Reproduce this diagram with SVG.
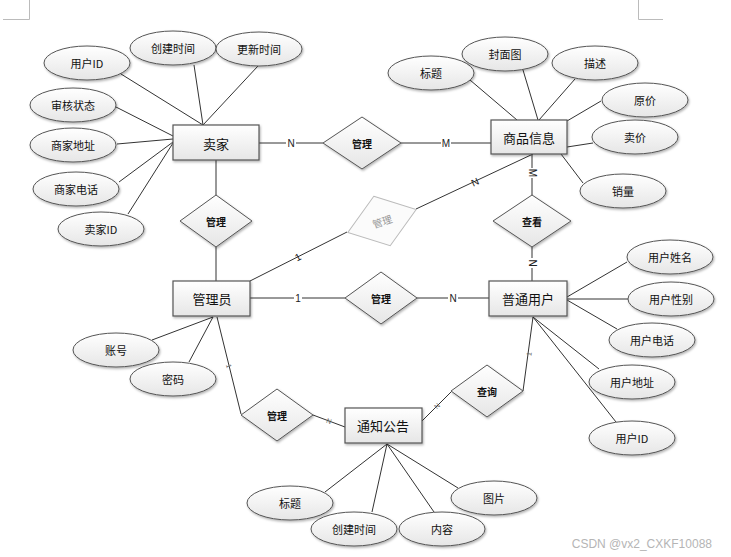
<svg xmlns="http://www.w3.org/2000/svg" width="731" height="557" viewBox="0 0 731 557">
<defs>
<linearGradient id="g" x1="0" y1="0" x2="0" y2="1">
<stop offset="0" stop-color="#ffffff"/>
<stop offset="1" stop-color="#e6e6e6"/>
</linearGradient>
<filter id="sh" x="-10%" y="-10%" width="130%" height="140%">
<feDropShadow dx="1" dy="1.5" stdDeviation="0.8" flood-color="#000" flood-opacity="0.3"/>
</filter>
</defs>
<style>
.e{fill:url(#g);stroke:#555;stroke-width:1;filter:url(#sh)}
.r{fill:url(#g);stroke:#555;stroke-width:1.2;filter:url(#sh)}
.d{fill:url(#g);stroke:#555;stroke-width:1;filter:url(#sh)}
.df{fill:#fbfbfb;stroke:#bbb;stroke-width:1}
.c line{stroke:#333;stroke-width:1}
text{font-family:"Noto Sans CJK SC","Liberation Sans",sans-serif;text-anchor:middle;dominant-baseline:central;fill:#111}
.ta{font-size:11px}
.tr{font-size:13px}
.td{font-size:10px;font-weight:bold}
.lb{font-family:"Liberation Sans",sans-serif;font-size:10px;fill:#222}
.lt{font-family:"Liberation Sans",sans-serif;font-size:7px;fill:#666}
.wm{font-family:"Liberation Sans",sans-serif;font-size:12px;fill:#b5b5b5}
</style>
<rect width="731" height="557" fill="#fff"/>
<g id="corners" stroke="#bbb" stroke-width="1" fill="none">
<polyline points="3,19.5 29.5,19.5 29.5,0"/>
<polyline points="638.5,0 638.5,19.5 663,19.5"/>
</g>
<g class="c" id="connectors">
<line x1="121" y1="74" x2="203" y2="125"/>
<line x1="194" y1="65" x2="203" y2="125"/>
<line x1="258" y1="66" x2="203" y2="125"/>
<line x1="116" y1="107" x2="173" y2="136"/>
<line x1="117" y1="144" x2="173" y2="139"/>
<line x1="119" y1="182" x2="173" y2="142"/>
<line x1="128" y1="214" x2="173" y2="143"/>
<line x1="259" y1="143" x2="323" y2="143"/>
<line x1="216" y1="160" x2="216" y2="195"/>
<line x1="216" y1="247" x2="216" y2="281"/>
<line x1="401" y1="143" x2="491" y2="143"/>
<line x1="470" y1="80" x2="517" y2="120"/>
<line x1="523" y1="70" x2="538" y2="120"/>
<line x1="575" y1="79" x2="539" y2="120"/>
<line x1="601" y1="101" x2="567" y2="121"/>
<line x1="593" y1="143" x2="567" y2="147"/>
<line x1="583" y1="183" x2="561" y2="154"/>
<line x1="532" y1="154" x2="532" y2="195"/>
<line x1="532" y1="247" x2="532" y2="281"/>
<line x1="533" y1="154" x2="416" y2="209"/>
<line x1="347" y1="232" x2="250" y2="281"/>
<line x1="250" y1="298" x2="345" y2="298"/>
<line x1="417" y1="298" x2="489" y2="298"/>
<line x1="152" y1="340" x2="213" y2="317"/>
<line x1="189" y1="362" x2="213" y2="317"/>
<line x1="217" y1="317" x2="241" y2="414"/>
<line x1="313" y1="415" x2="345" y2="427"/>
<line x1="627" y1="262" x2="567" y2="297"/>
<line x1="628" y1="299" x2="567" y2="299"/>
<line x1="617" y1="329" x2="567" y2="300"/>
<line x1="599" y1="369" x2="533" y2="317"/>
<line x1="616" y1="422" x2="533" y2="317"/>
<line x1="533" y1="317" x2="523" y2="391"/>
<line x1="452" y1="391" x2="422" y2="421"/>
<line x1="387" y1="444" x2="458" y2="488"/>
<line x1="387" y1="444" x2="434" y2="512"/>
<line x1="387" y1="444" x2="372" y2="512"/>
<line x1="387" y1="444" x2="325" y2="492"/>
</g>
<g id="conn-labels">
<rect x="286" y="137" width="10" height="12" fill="#fff"/><text class="lb" x="291" y="143">N</text>
<rect x="441" y="137" width="10" height="12" fill="#fff"/><text class="lb" x="446" y="143">M</text>
<rect x="526" y="168" width="12" height="10" fill="#fff"/><text class="lb" x="532" y="173" transform="rotate(90 532 173)">M</text>
<rect x="527" y="258" width="10" height="10" fill="#fff"/><text class="lb" x="532" y="263" transform="rotate(90 532 263)">N</text>
<text class="lb" x="475" y="182" transform="rotate(-25 475 182)">N</text>
<text class="lb" x="298" y="257" transform="rotate(-27 298 257)">1</text>
<rect x="294" y="292" width="8" height="12" fill="#fff"/><text class="lb" x="298" y="298.5">1</text>
<rect x="448" y="292" width="10" height="12" fill="#fff"/><text class="lb" x="453" y="298.5">N</text>
<text class="lt" x="229" y="366" transform="rotate(76 229 366)">1</text>
<text class="lt" x="329" y="421" transform="rotate(20 329 421)">N</text>
<text class="lt" x="529" y="354" transform="rotate(-82 529 354)">1</text>
<text class="lt" x="437" y="406" transform="rotate(-45 437 406)">N</text>
</g>
<g id="seller">
<rect class="r" x="173" y="125" width="86" height="35"/>
<text class="tr" x="216" y="143">卖家</text>
</g>
<g id="seller-attrs">
<g id="a-seller-uid"><ellipse class="e" cx="87" cy="63" rx="43" ry="17"/><text class="ta" x="87" y="63">用户ID</text></g>
<g id="a-seller-ctime"><ellipse class="e" cx="173" cy="48" rx="43" ry="17"/><text class="ta" x="173" y="48">创建时间</text></g>
<g id="a-seller-utime"><ellipse class="e" cx="259" cy="49" rx="43" ry="17"/><text class="ta" x="259" y="49">更新时间</text></g>
<g id="a-seller-status"><ellipse class="e" cx="73" cy="105" rx="43" ry="17"/><text class="ta" x="73" y="105">审核状态</text></g>
<g id="a-seller-addr"><ellipse class="e" cx="73" cy="145" rx="43" ry="17"/><text class="ta" x="73" y="145">商家地址</text></g>
<g id="a-seller-tel"><ellipse class="e" cx="76" cy="189" rx="43" ry="17"/><text class="ta" x="76" y="189">商家电话</text></g>
<g id="a-seller-id"><ellipse class="e" cx="101" cy="229" rx="43" ry="17"/><text class="ta" x="101" y="229">卖家ID</text></g>
</g>
<g id="rel-seller-goods">
<polygon class="d" points="362,117 401,143 362,169 323,143"/>
<text class="td" x="362" y="143">管理</text>
</g>
<g id="rel-seller-admin">
<polygon class="d" points="216,195 252,221 216,247 180,221"/>
<text class="td" x="216" y="221">管理</text>
</g>
<g id="goods">
<rect class="r" x="491" y="120" width="76" height="34"/>
<text class="tr" x="529" y="137">商品信息</text>
</g>
<g id="goods-attrs">
<g id="a-goods-title"><ellipse class="e" cx="431" cy="73" rx="43" ry="17"/><text class="ta" x="431" y="73">标题</text></g>
<g id="a-goods-cover"><ellipse class="e" cx="505" cy="54" rx="43" ry="17"/><text class="ta" x="505" y="54">封面图</text></g>
<g id="a-goods-desc"><ellipse class="e" cx="595" cy="63" rx="43" ry="17"/><text class="ta" x="595" y="63">描述</text></g>
<g id="a-goods-oprice"><ellipse class="e" cx="645" cy="100" rx="43" ry="17"/><text class="ta" x="645" y="100">原价</text></g>
<g id="a-goods-price"><ellipse class="e" cx="635" cy="137" rx="43" ry="17"/><text class="ta" x="635" y="137">卖价</text></g>
<g id="a-goods-sales"><ellipse class="e" cx="623" cy="191" rx="43" ry="17"/><text class="ta" x="623" y="191">销量</text></g>
</g>
<g id="rel-admin-goods" transform="rotate(-18.4 382 221)">
<polygon class="df" points="382,195 418,221 382,247 346,221"/>
<text class="td" x="382" y="221" style="fill:#999;font-weight:normal">管理</text>
</g>
<g id="rel-view">
<polygon class="d" points="532,195 571,221 532,247 493,221"/>
<text class="td" x="532" y="221">查看</text>
</g>
<g id="admin">
<rect class="r" x="173" y="281" width="77" height="35"/>
<text class="tr" x="212" y="298">管理员</text>
</g>
<g id="admin-attrs">
<g id="a-admin-account"><ellipse class="e" cx="116" cy="350" rx="43" ry="17"/><text class="ta" x="116" y="350">账号</text></g>
<g id="a-admin-pwd"><ellipse class="e" cx="173" cy="379" rx="43" ry="17"/><text class="ta" x="173" y="379">密码</text></g>
</g>
<g id="rel-admin-user">
<polygon class="d" points="381,272 417,298 381,324 345,298"/>
<text class="td" x="381" y="298">管理</text>
</g>
<g id="user">
<rect class="r" x="489" y="281" width="78" height="35"/>
<text class="tr" x="528" y="298">普通用户</text>
</g>
<g id="user-attrs">
<g id="a-user-name"><ellipse class="e" cx="670" cy="257" rx="43" ry="17"/><text class="ta" x="670" y="257">用户姓名</text></g>
<g id="a-user-sex"><ellipse class="e" cx="671" cy="299" rx="43" ry="17"/><text class="ta" x="671" y="299">用户性别</text></g>
<g id="a-user-tel"><ellipse class="e" cx="652" cy="340" rx="43" ry="17"/><text class="ta" x="652" y="340">用户电话</text></g>
<g id="a-user-addr"><ellipse class="e" cx="632" cy="382" rx="43" ry="17"/><text class="ta" x="632" y="382">用户地址</text></g>
<g id="a-user-id"><ellipse class="e" cx="632" cy="438" rx="43" ry="17"/><text class="ta" x="632" y="438">用户ID</text></g>
</g>
<g id="rel-admin-notice">
<polygon class="d" points="277,389 313,415 277,441 241,415"/>
<text class="td" x="277" y="415">管理</text>
</g>
<g id="rel-query">
<polygon class="d" points="487,365 523,391 487,417 451,391"/>
<text class="td" x="487" y="391">查询</text>
</g>
<g id="notice">
<rect class="r" x="345" y="408" width="77" height="35"/>
<text class="tr" x="383" y="425">通知公告</text>
</g>
<g id="notice-attrs">
<g id="a-notice-title"><ellipse class="e" cx="290" cy="503" rx="43" ry="17"/><text class="ta" x="290" y="503">标题</text></g>
<g id="a-notice-ctime"><ellipse class="e" cx="354" cy="529" rx="43" ry="17"/><text class="ta" x="354" y="529">创建时间</text></g>
<g id="a-notice-content"><ellipse class="e" cx="442" cy="529" rx="43" ry="17"/><text class="ta" x="442" y="529">内容</text></g>
<g id="a-notice-img"><ellipse class="e" cx="494" cy="498" rx="43" ry="17"/><text class="ta" x="494" y="498">图片</text></g>
</g>
<text class="wm" x="712" y="544" style="text-anchor:end">CSDN @vx2_CXKF10088</text>
</svg>
